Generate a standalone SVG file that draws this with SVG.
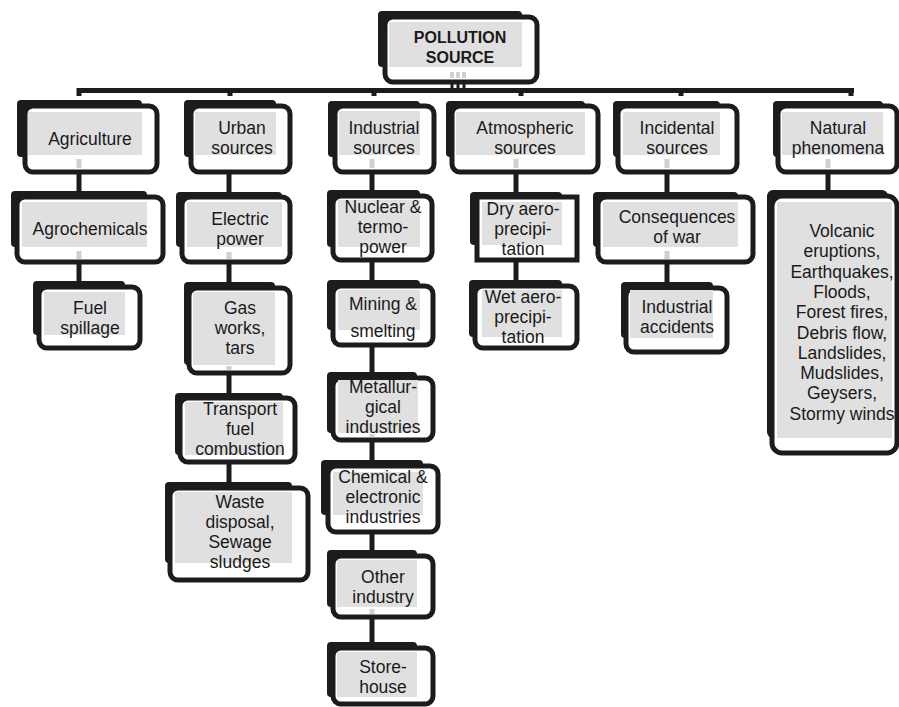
<svg xmlns="http://www.w3.org/2000/svg" width="899" height="707" viewBox="0 0 899 707">
<style>
.sh{fill:#1c1c1c}
.ol{fill:#ffffff;stroke:#1c1c1c;stroke-width:5}
.gy{fill:#e0e0e0}
.t{font-family:"Liberation Sans",Arial,sans-serif;font-size:17.5px;fill:#1a1a1a;text-anchor:middle}
.tb{font-family:"Liberation Sans",Arial,sans-serif;font-size:16px;font-weight:bold;fill:#1a1a1a;text-anchor:middle}
.cn{stroke:#1c1c1c;stroke-width:5;fill:none}
.cg{stroke:#d0d0d0;stroke-width:5;fill:none}
</style>
<rect width="899" height="707" fill="#ffffff"/>

<g id="root">
<rect class="sh" x="378" y="11" width="144" height="56" rx="4"/>
<rect class="ol" x="385" y="17" width="152" height="65" rx="8"/>
<rect class="gy" x="389" y="22" width="133" height="45"/>
<text class="tb"><tspan x="460" y="43">POLLUTION</tspan><tspan x="460" y="63">SOURCE</tspan></text>
</g>

<g id="agriculture">
<rect class="sh" x="17" y="100" width="125" height="57" rx="4"/>
<rect class="ol" x="25" y="106" width="132" height="66" rx="8"/>
<rect class="gy" x="28" y="112" width="114" height="43"/>
<text class="t" x="90" y="145">Agriculture</text>
</g>
<g id="agrochemicals">
<rect class="sh" x="11" y="191" width="136" height="56" rx="4"/>
<rect class="ol" x="17" y="197" width="146" height="65" rx="8"/>
<rect class="gy" x="22" y="202" width="125" height="45"/>
<text class="t" x="90" y="235">Agrochemicals</text>
</g>
<g id="fuel-spillage">
<rect class="sh" x="33" y="281" width="92" height="54" rx="4"/>
<rect class="ol" x="39" y="287" width="101" height="61" rx="8"/>
<rect class="gy" x="44" y="292" width="81" height="43"/>
<text class="t"><tspan x="90" y="314">Fuel</tspan><tspan x="90" y="334">spillage</tspan></text>
</g>

<g id="urban">
<rect class="sh" x="184" y="100" width="92" height="57" rx="4"/>
<rect class="ol" x="191" y="106" width="99" height="66" rx="8"/>
<rect class="gy" x="195" y="112" width="81" height="43"/>
<text class="t"><tspan x="242" y="134">Urban</tspan><tspan x="242" y="154">sources</tspan></text>
</g>
<g id="electric-power">
<rect class="sh" x="176" y="192" width="106" height="55" rx="4"/>
<rect class="ol" x="182" y="197" width="108" height="65" rx="8"/>
<rect class="gy" x="187" y="202" width="95" height="45"/>
<text class="t"><tspan x="240" y="225">Electric</tspan><tspan x="240" y="245">power</tspan></text>
</g>
<g id="gas-works">
<rect class="sh" x="184" y="282" width="91" height="83" rx="4"/>
<rect class="ol" x="189" y="288" width="101" height="85" rx="8"/>
<rect class="gy" x="193" y="292" width="82" height="73"/>
<text class="t"><tspan x="240" y="314">Gas</tspan><tspan x="240" y="334">works,</tspan><tspan x="240" y="354">tars</tspan></text>
</g>
<g id="transport">
<rect class="sh" x="175" y="393" width="108" height="62" rx="4"/>
<rect class="ol" x="180" y="398" width="115" height="64" rx="8"/>
<rect class="gy" x="185" y="402" width="98" height="53"/>
<text class="t"><tspan x="240" y="415">Transport</tspan><tspan x="240" y="435">fuel</tspan><tspan x="240" y="455">combustion</tspan></text>
</g>
<g id="waste">
<rect class="sh" x="165" y="482" width="127" height="81" rx="4"/>
<rect class="ol" x="170" y="488" width="138" height="92" rx="8"/>
<rect class="gy" x="175" y="492" width="117" height="71"/>
<text class="t"><tspan x="240" y="508">Waste</tspan><tspan x="240" y="528">disposal,</tspan><tspan x="240" y="548">Sewage</tspan><tspan x="240" y="568">sludges</tspan></text>
</g>

<g id="industrial">
<rect class="sh" x="328" y="101" width="92" height="56" rx="4"/>
<rect class="ol" x="335" y="106" width="99" height="66" rx="8"/>
<rect class="gy" x="339" y="111" width="81" height="44"/>
<text class="t"><tspan x="384" y="134">Industrial</tspan><tspan x="384" y="154">sources</tspan></text>
</g>
<g id="nuclear">
<rect class="sh" x="327" y="190" width="93" height="57" rx="4"/>
<rect class="ol" x="333" y="196" width="99" height="64" rx="8"/>
<rect class="gy" x="338" y="200" width="82" height="47"/>
<text class="t"><tspan x="383" y="213">Nuclear &amp;</tspan><tspan x="383" y="233">termo-</tspan><tspan x="383" y="253">power</tspan></text>
</g>
<g id="mining">
<rect class="sh" x="327" y="280" width="93" height="50" rx="4"/>
<rect class="ol" x="333" y="286" width="100" height="59" rx="8"/>
<rect class="gy" x="338" y="290" width="82" height="40"/>
<text class="t"><tspan x="383" y="310">Mining &amp;</tspan><tspan x="383" y="337">smelting</tspan></text>
</g>
<g id="metallurgical">
<rect class="sh" x="327" y="372" width="90" height="61" rx="4"/>
<rect class="ol" x="333" y="378" width="100" height="62" rx="8"/>
<rect class="gy" x="338" y="380" width="80" height="53"/>
<text class="t"><tspan x="383" y="393">Metallur-</tspan><tspan x="383" y="413">gical</tspan><tspan x="383" y="433">industries</tspan></text>
</g>
<g id="chemical">
<rect class="sh" x="321" y="460" width="102" height="55" rx="4"/>
<rect class="ol" x="328" y="466" width="110" height="66" rx="8"/>
<rect class="gy" x="333" y="472" width="90" height="43"/>
<text class="t"><tspan x="383" y="483">Chemical &amp;</tspan><tspan x="383" y="503">electronic</tspan><tspan x="383" y="523">industries</tspan></text>
</g>
<g id="other-industry">
<rect class="sh" x="327" y="550" width="90" height="57" rx="4"/>
<rect class="ol" x="333" y="556" width="100" height="61" rx="8"/>
<rect class="gy" x="337" y="560" width="80" height="47"/>
<text class="t"><tspan x="383" y="583">Other</tspan><tspan x="383" y="603">industry</tspan></text>
</g>
<g id="storehouse">
<rect class="sh" x="327" y="642" width="90" height="55" rx="4"/>
<rect class="ol" x="333" y="648" width="100" height="56" rx="8"/>
<rect class="gy" x="337" y="652" width="80" height="45"/>
<text class="t"><tspan x="383" y="673">Store-</tspan><tspan x="383" y="693">house</tspan></text>
</g>

<g id="atmospheric">
<rect class="sh" x="446" y="101" width="139" height="56" rx="4"/>
<rect class="ol" x="452" y="106" width="146" height="66" rx="8"/>
<rect class="gy" x="456" y="112" width="129" height="43"/>
<text class="t"><tspan x="525" y="134">Atmospheric</tspan><tspan x="525" y="154">sources</tspan></text>
</g>
<g id="dry-aero">
<rect class="sh" x="470" y="192" width="92" height="53" rx="4"/>
<rect class="ol" x="477" y="197" width="100" height="63"/>
<rect class="gy" x="482" y="202" width="80" height="43"/>
<text class="t"><tspan x="523" y="215">Dry aero-</tspan><tspan x="523" y="235">precipi-</tspan><tspan x="523" y="255">tation</tspan></text>
</g>
<g id="wet-aero">
<rect class="sh" x="469" y="280" width="93" height="57" rx="4"/>
<rect class="ol" x="475" y="286" width="102" height="62" rx="8"/>
<rect class="gy" x="482" y="290" width="80" height="47"/>
<text class="t"><tspan x="523" y="303">Wet aero-</tspan><tspan x="523" y="323">precipi-</tspan><tspan x="523" y="343">tation</tspan></text>
</g>

<g id="incidental">
<rect class="sh" x="613" y="101" width="107" height="56" rx="4"/>
<rect class="ol" x="618" y="106" width="119" height="66" rx="8"/>
<rect class="gy" x="623" y="112" width="97" height="43"/>
<text class="t"><tspan x="677" y="134">Incidental</tspan><tspan x="677" y="154">sources</tspan></text>
</g>
<g id="war">
<rect class="sh" x="593" y="192" width="145" height="55" rx="4"/>
<rect class="ol" x="598" y="197" width="155" height="65" rx="8"/>
<rect class="gy" x="603" y="202" width="135" height="45"/>
<text class="t"><tspan x="677" y="223">Consequences</tspan><tspan x="677" y="243">of war</tspan></text>
</g>
<g id="accidents">
<rect class="sh" x="621" y="282" width="92" height="56" rx="4"/>
<rect class="ol" x="626" y="288" width="101" height="64" rx="8"/>
<rect class="gy" x="630" y="290" width="83" height="48"/>
<text class="t"><tspan x="677" y="313">Industrial</tspan><tspan x="677" y="333">accidents</tspan></text>
</g>

<g id="natural">
<rect class="sh" x="773" y="101" width="110" height="56" rx="4"/>
<rect class="ol" x="778" y="106" width="119" height="66" rx="8"/>
<rect class="gy" x="782" y="112" width="101" height="43"/>
<text class="t"><tspan x="838" y="134">Natural</tspan><tspan x="838" y="154">phenomena</tspan></text>
</g>
<g id="natural-list">
<rect class="sh" x="767" y="190" width="121" height="248" rx="6"/>
<rect class="ol" x="772" y="196" width="125" height="257" rx="10"/>
<rect class="gy" x="777" y="202" width="115" height="236"/>
<text class="t"><tspan x="842" y="237">Volcanic</tspan><tspan x="842" y="257.3">eruptions,</tspan><tspan x="842" y="277.6">Earthquakes,</tspan><tspan x="842" y="297.9">Floods,</tspan><tspan x="842" y="318.2">Forest fires,</tspan><tspan x="842" y="338.5">Debris flow,</tspan><tspan x="842" y="358.8">Landslides,</tspan><tspan x="842" y="379.1">Mudslides,</tspan><tspan x="842" y="399.4">Geysers,</tspan><tspan x="842" y="419.7">Stormy winds</tspan></text>
</g>

<g id="connectors">
<rect x="77" y="88" width="777" height="5" fill="#1c1c1c"/>
<path class="cn" d="M79 88V96M230 88V96M374 88V96M521 88V96M681 88V96M851 88V96"/>
<path d="M452 80V90M458 80V90M464 80V90" stroke="#1c1c1c" stroke-width="3"/>
<path d="M452 72V78M458 72V78M464 72V78" stroke="#d0d0d0" stroke-width="4"/>
<path class="cg" d="M79 159V168M79 251V259M229 252V259M229 366V370M372 159V168M372 434V437M372 609V614M516 159V168M667 159V168M667 251V259M828 159V168"/>
<path class="cn" d="M79 172V191M79 262V281M229 172V192M229 262V282M229 373V393M229 462V482M372 172V190M372 260V280M372 345V372M372 440V460M372 532V550M372 617V642M516 172V192M516 260V280M667 172V192M667 262V282M828 172V190"/>
</g>
</svg>
